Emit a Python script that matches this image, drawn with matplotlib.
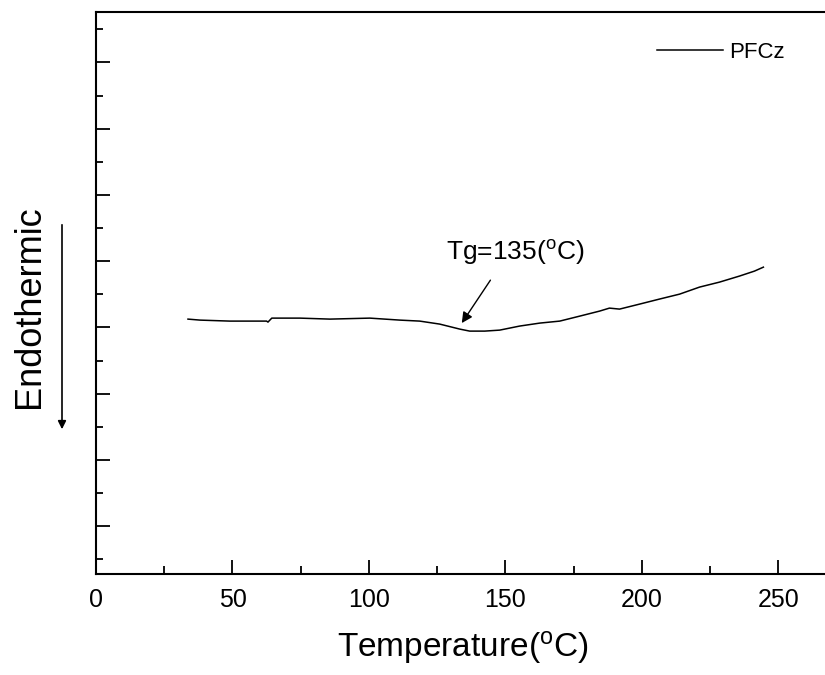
import matplotlib
matplotlib.use("Agg")
import matplotlib.pyplot as plt
from matplotlib.ticker import MultipleLocator

plt.rcParams['font.family'] = ['Liberation Sans', 'DejaVu Sans']
plt.rcParams['mathtext.fontset'] = 'custom'
plt.rcParams['mathtext.rm'] = 'Liberation Sans'
plt.rcParams['mathtext.it'] = 'Liberation Sans'

# Data (temperature in °C, heat flow in arbitrary units)
temperature = [33.7, 38.1, 49.0, 62.5, 63.0, 64.4, 74.7, 85.7, 100.3, 111.3, 118.6,
               125.9, 133.3, 136.9, 142.4, 147.9, 155.2, 162.6, 169.9, 177.2,
               184.5, 188.1, 191.8, 199.1, 206.4, 213.8, 221.1, 228.4, 235.7,
               241.2, 244.5]
heat_flow = [3.126, 3.111, 3.096, 3.096, 3.081, 3.141, 3.141, 3.126, 3.141, 3.111, 3.096,
             3.051, 2.975, 2.945, 2.945, 2.960, 3.021, 3.066, 3.096, 3.171,
             3.247, 3.292, 3.277, 3.352, 3.428, 3.503, 3.609, 3.684, 3.775,
             3.850, 3.910]
series_label = "PFCz"
xticks = [0, 50, 100, 150, 200, 250]

fig = plt.figure(figsize=(8.25, 6.75), dpi=100)
ax = fig.add_axes([96/825, 101/675, 737/825, 562/675])

line, = ax.plot(temperature, heat_flow, color='black', lw=1.1)
ax.set_xlim(0, 270)
ax.set_ylim(-0.72, 7.76)

ax.set_xticks(xticks)
ax.set_xticklabels([str(t) for t in xticks])
ax.xaxis.set_minor_locator(MultipleLocator(25))
ax.yaxis.set_major_locator(MultipleLocator(1))
ax.yaxis.set_minor_locator(MultipleLocator(0.5))
ax.tick_params(axis='y', which='both', labelleft=False, direction='in', width=1.3)
ax.tick_params(axis='y', which='major', length=10)
ax.tick_params(axis='y', which='minor', length=5)
ax.tick_params(axis='x', which='both', direction='in', width=1.3, labelsize=18, pad=10)
ax.tick_params(axis='x', which='major', length=10)
ax.tick_params(axis='x', which='minor', length=6)
for s in ax.spines.values():
    s.set_linewidth(1.5)

# legend
ax.legend([line], [series_label], loc='center left',
          bbox_to_anchor=((657 - 96) / 737, 1 - (52 - 12) / 562),
          frameon=False, fontsize=16, handlelength=2.95, handletextpad=0.3,
          borderaxespad=0, borderpad=0)

# annotation
ax.annotate('', xy=(134, 3.066), xytext=(144.5, 3.714),
            arrowprops=dict(arrowstyle='-|>', color='black', lw=1.0,
                            mutation_scale=16, shrinkA=0, shrinkB=0))
ax.text(153.5, 4.02, r'Tg=135($^\mathrm{o}$C)', fontsize=19, ha='center',
        va='baseline')

fig.text(463/825, 0.04, r'Temperature($^\mathrm{o}$C)', fontsize=24,
         ha='center', va='center')
fig.text(30/825, 1 - 307/675, 'Endothermic', fontsize=26, rotation=90,
         ha='center', va='center')
fig.add_artist(matplotlib.patches.FancyArrowPatch((62/825, 1 - 222/675), (62/825, 1 - 432/675),
               transform=fig.transFigure, arrowstyle='-|>', mutation_scale=12,
               color='black', lw=1.2))

fig.savefig('out.png', dpi=100)
